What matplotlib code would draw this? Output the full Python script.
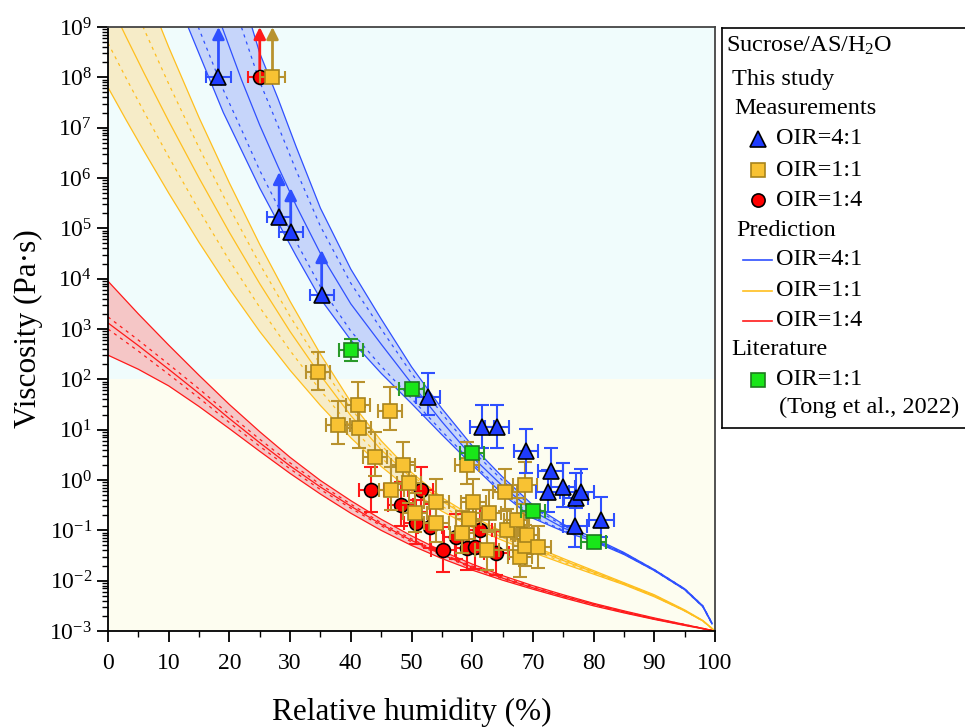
import numpy as np
import matplotlib.pyplot as plt
from matplotlib.ticker import FixedLocator, FuncFormatter, MultipleLocator, NullFormatter

plt.rcParams['font.family'] = ['Liberation Serif', 'DejaVu Serif']
plt.rcParams['mathtext.fontset'] = 'custom'
plt.rcParams['mathtext.rm'] = 'Liberation Serif'
plt.rcParams['mathtext.it'] = 'Liberation Serif:italic'
plt.rcParams['mathtext.bf'] = 'Liberation Serif:bold'

# ---- prediction bands, log10(viscosity / Pa s) vs RH (%) ----
rh_blue = [12, 15, 19, 22, 25, 28, 31, 35, 40, 45, 50, 55, 60, 65, 70, 75, 80, 85, 90, 95, 98, 99.5]
blue_lo = [9.35, 8.47, 7.3, 6.55, 5.8, 5.12, 4.45, 3.6, 2.78, 2.12, 1.52, 0.9, 0.3, -0.28, -0.76, -1.02, -1.22, -1.48, -1.8, -2.18, -2.52, -2.86]
blue_d1 = [9.86, 8.96, 7.75, 6.96, 6.15, 5.44, 4.73, 3.84, 2.96, 2.26, 1.62, 0.97, 0.35, -0.24, -0.73, -1.0, -1.21, -1.47, -1.8, -2.18, -2.52, -2.86]
blue_mid = [11.1, 10.2, 8.93, 7.95, 7.05, 6.23, 5.45, 4.5, 3.5, 2.7, 1.92, 1.16, 0.46, -0.12, -0.62, -0.95, -1.19, -1.46, -1.79, -2.17, -2.51, -2.85]
blue_d2 = [12.42, 11.4, 10.03, 8.99, 7.91, 7.04, 6.15, 5.04, 3.91, 3.0, 2.12, 1.32, 0.59, -0.01, -0.55, -0.91, -1.17, -1.45, -1.78, -2.16, -2.5, -2.84]
blue_hi = [13.3, 12.2, 10.77, 9.68, 8.48, 7.58, 6.62, 5.4, 4.19, 3.2, 2.25, 1.42, 0.68, 0.06, -0.5, -0.88, -1.15, -1.44, -1.78, -2.16, -2.5, -2.84]

rh_orange = [0, 3, 6, 10, 15, 20, 25, 30, 35, 40, 45, 50, 55, 60, 65, 70, 75, 80, 85, 90, 95, 98, 100]
orange_lo = [7.8, 7.15, 6.52, 5.7, 4.72, 3.8, 2.95, 2.18, 1.48, 0.84, 0.27, -0.22, -0.62, -0.94, -1.2, -1.44, -1.66, -1.87, -2.08, -2.32, -2.6, -2.8, -3.0]
orange_d1 = [8.68, 7.98, 7.3, 6.42, 5.36, 4.36, 3.43, 2.57, 1.78, 1.06, 0.44, -0.09, -0.52, -0.86, -1.14, -1.4, -1.63, -1.85, -2.07, -2.31, -2.6, -2.8, -3.0]
orange_mid = [9.55, 8.8, 8.07, 7.13, 6.0, 4.92, 3.9, 2.95, 2.08, 1.28, 0.6, 0.04, -0.42, -0.78, -1.08, -1.36, -1.6, -1.83, -2.06, -2.3, -2.6, -2.8, -3.0]
orange_d2 = [10.63, 9.75, 8.94, 7.87, 6.6, 5.41, 4.29, 3.25, 2.29, 1.42, 0.69, 0.1, -0.39, -0.75, -1.06, -1.34, -1.58, -1.82, -2.05, -2.29, -2.59, -2.8, -3.0]
orange_hi = [11.7, 10.7, 9.8, 8.6, 7.2, 5.9, 4.68, 3.55, 2.5, 1.55, 0.78, 0.15, -0.35, -0.72, -1.03, -1.31, -1.56, -1.8, -2.04, -2.28, -2.58, -2.79, -3.0]

rh_red = [0, 5, 10, 15, 20, 25, 30, 35, 40, 45, 50, 55, 60, 65, 70, 75, 80, 85, 90, 95, 100]
red_lo = [2.48, 2.2, 1.87, 1.46, 1.02, 0.57, 0.13, -0.28, -0.66, -1.0, -1.3, -1.56, -1.79, -1.99, -2.17, -2.34, -2.5, -2.64, -2.77, -2.89, -3.0]
red_d1 = [3.0, 2.56, 2.1, 1.63, 1.14, 0.67, 0.22, -0.19, -0.56, -0.91, -1.23, -1.5, -1.75, -1.96, -2.15, -2.32, -2.48, -2.63, -2.76, -2.88, -3.0]
red_mid = [3.12, 2.67, 2.2, 1.72, 1.22, 0.74, 0.28, -0.14, -0.52, -0.88, -1.2, -1.48, -1.73, -1.95, -2.14, -2.31, -2.47, -2.62, -2.76, -2.88, -3.0]
red_d2 = [3.24, 2.78, 2.3, 1.81, 1.3, 0.81, 0.34, -0.09, -0.48, -0.85, -1.17, -1.46, -1.71, -1.93, -2.12, -2.3, -2.46, -2.61, -2.75, -2.87, -3.0]
red_hi = [3.95, 3.3, 2.68, 2.08, 1.5, 0.96, 0.45, -0.01, -0.41, -0.78, -1.11, -1.41, -1.67, -1.9, -2.1, -2.28, -2.45, -2.6, -2.74, -2.87, -3.0]

# ---- measurements (log10 viscosity, error bars in decades) ----
tri_rh = [18.2, 28.2, 30.1, 35.2, 52.7, 61.6, 64.1, 68.9, 72.9, 72.5, 74.9, 77.1, 78.0, 76.9, 81.3]
tri_logv = [8.0, 5.23, 4.93, 3.68, 1.65, 1.05, 1.06, 0.58, 0.18, -0.23, -0.14, -0.36, -0.24, -0.91, -0.79]
tri_up = [0, 0, 0, 0, 0.47, 0.44, 0.43, 0.43, 0.45, 0.42, 0.47, 0.5, 0.45, 0.45, 0.46]
tri_dn = [0, 0, 0, 0, 0.36, 0.41, 0.43, 0.45, 0.12, 0.40, 0.39, 0.2, 0.16, 0.42, 0.34]
tri_arrow_top = [9.0, 6.12, 5.8, 4.57]   # lower-limit points (first four)

sq_rh = [27.1, 34.6, 37.9, 41.2, 41.4, 44.0, 46.5, 46.7, 48.6, 49.6, 50.6, 54.1, 54.1, 58.3,
         59.1, 59.4, 60.2, 62.4, 62.7, 65.4, 65.7, 67.3, 67.9, 68.7, 68.7, 69.0, 70.9]
sq_logv = [8.0, 2.15, 1.09, 1.49, 1.04, 0.46, 1.37, -0.2, 0.30, -0.06, -0.65, -0.43, -0.86, -1.06,
           0.30, -0.78, -0.43, -1.39, -0.65, -0.24, -0.99, -0.80, -1.52, -0.10, -1.31, -1.09, -1.34]
sq_up = [0, 0.40, 0.47, 0.45, 0.42, 0.5, 0.47, 0.45, 0.45, 0.42, 0.4, 0.45, 0.42, 0.45,
         0.45, 0.42, 0.45, 0.4, 0.45, 0.45, 0.42, 0.45, 0.4, 0.45, 0.42, 0.4, 0.42]
sq_dn = [0, 0.36, 0.38, 0.40, 0.4, 0.38, 0.37, 0.4, 0.38, 0.4, 0.38, 0.4, 0.38, 0.4,
         0.38, 0.4, 0.38, 0.4, 0.38, 0.38, 0.4, 0.38, 0.4, 0.38, 0.4, 0.38, 0.4]
sq_arrow_top = [9.0]

cir_rh = [25.0, 43.4, 48.2, 51.5, 50.8, 53.0, 55.2, 57.4, 59.1, 60.5, 61.3, 64.0]
cir_logv = [8.0, -0.2, -0.49, -0.2, -0.85, -0.93, -1.39, -1.13, -1.36, -1.33, -1.0, -1.46]
cir_up = [0, 0.46, 0.45, 0.45, 0.45, 0.45, 0.45, 0.45, 0.45, 0.45, 0.45, 0.45]
cir_dn = [0, 0.43, 0.43, 0.43, 0.43, 0.43, 0.43, 0.43, 0.43, 0.43, 0.43, 0.43]
cir_arrow_top = [9.0]

tong_rh = [40, 50, 60, 70, 80]
tong_logv = [2.58, 1.80, 0.53, -0.61, -1.23]
tong_up = [0.23, 0.06, 0.08, 0.06, 0.05]
tong_dn = [0.21, 0.06, 0.08, 0.06, 0.05]

rh_err = 2.0

BLUE = '#2f50ff'
ORANGE = '#ffbf1f'
RED = '#ff1a1a'
C_SQ = '#f8c233'
C_SQ_EDGE = '#a8841c'
C_GREEN = '#19e619'
C_GREEN_EDGE = '#1f7a1f'

fig = plt.figure(figsize=(9.65, 7.27), dpi=100)
ax = fig.add_axes([108 / 965, 1 - 631 / 727, 607 / 965, 604 / 727])
ax.set_yscale('log')
ax.set_xlim(0, 100)
ax.set_ylim(1e-3, 1e9)

# background split at 100 Pa s
ax.axhspan(1e2, 1e9, color='#f0fcfc', zorder=0, lw=0)
ax.axhspan(1e-3, 1e2, color='#fdfdf0', zorder=0, lw=0)


def band(rh, lo, d1, mid, d2, hi, line_c, fill_c):
    rh = np.array(rh)
    ax.fill_between(rh, 10 ** np.array(lo), 10 ** np.array(hi), color=fill_c, lw=0, zorder=1)
    for arr in (lo, mid, hi):
        ax.plot(rh, 10 ** np.array(arr), color=line_c, lw=0.9, zorder=2)
    for arr in (d1, d2):
        ax.plot(rh, 10 ** np.array(arr), color=line_c, lw=0.9, ls=(0, (2.5, 3.5)), zorder=2)


band(rh_red, red_lo, red_d1, red_mid, red_d2, red_hi, RED, '#f5c6c6')
band(rh_orange, orange_lo, orange_d1, orange_mid, orange_d2, orange_hi, ORANGE, '#f6ecc8')
band(rh_blue, blue_lo, blue_d1, blue_mid, blue_d2, blue_hi, BLUE, '#c6d5fa')


def points(rh, logv, up, dn, arrow_top, ecolor, marker, ms, fc, ec, z):
    rh = np.array(rh)
    v = 10 ** np.array(logv)
    yerr = [v - v * 10 ** -np.array(dn), v * 10 ** np.array(up) - v]
    n = len(arrow_top)
    # lower limits: horizontal error bar plus arrow up
    ax.errorbar(rh[:n], v[:n], xerr=rh_err, fmt='none', ecolor=ecolor, elinewidth=1.5,
                capsize=4, capthick=1.5, zorder=z)
    for x, y0, top in zip(rh[:n], v[:n], arrow_top):
        ax.annotate('', xy=(x, 10 ** top), xytext=(x, y0),
                    arrowprops=dict(arrowstyle='-|>,head_width=0.35,head_length=0.7',
                                    color=ecolor, lw=2, shrinkA=0, shrinkB=0), zorder=z)
    ax.errorbar(rh[n:], v[n:], xerr=rh_err, yerr=[yerr[0][n:], yerr[1][n:]], fmt='none',
                ecolor=ecolor, elinewidth=1.5, capsize=5, capthick=1.5, zorder=z)
    ax.plot(rh, v, ls='none', marker=marker, ms=ms, mfc=fc, mec=ec, mew=1.2, zorder=z + 0.5)


points(cir_rh, cir_logv, cir_up, cir_dn, cir_arrow_top, RED, 'o', 10, '#ff0000', 'black', 5)
points(sq_rh, sq_logv, sq_up, sq_dn, sq_arrow_top, '#b8922e', 's', 10, C_SQ, C_SQ_EDGE, 6)
points(tri_rh, tri_logv, tri_up, tri_dn, tri_arrow_top, BLUE, '^', 11.5, '#1f3cff', 'black', 7)
points(tong_rh, tong_logv, tong_up, tong_dn, [], '#2a9a2a', 's', 9.5, C_GREEN, C_GREEN_EDGE, 8)

# axes styling
ax.xaxis.set_major_locator(MultipleLocator(10))
ax.xaxis.set_minor_locator(MultipleLocator(5))
ax.yaxis.set_major_locator(FixedLocator([10.0 ** k for k in range(-3, 10)]))
ax.yaxis.set_major_formatter(FuncFormatter(lambda v, p: r'$10^{%d}$' % round(np.log10(v))))
ax.yaxis.set_minor_locator(FixedLocator([m * 10.0 ** k for k in range(-3, 9) for m in range(2, 10)]))
ax.yaxis.set_minor_formatter(NullFormatter())
ax.tick_params(which='both', direction='out', top=False, right=False, labelsize=17)
ax.tick_params(which='major', length=8, width=1.3)
ax.tick_params(which='minor', length=4, width=1.0)
ax.tick_params(axis='x', which='major', pad=8)
for s in ax.spines.values():
    s.set_linewidth(1.3)
ax.spines['top'].set_color('#444444')
ax.spines['right'].set_color('#444444')

ax.set_xlabel('Relative humidity (%)', fontsize=22.5, va='center')
ax.xaxis.set_label_coords(0.5, -81 / 604)
ax.set_ylabel('Viscosity (Pa\u00b7s)', fontsize=22.5, va='center', ha='center')
ax.yaxis.set_label_coords(-80 / 607, 0.5)

# legend box drawn in pixel-like coordinates
lg = fig.add_axes([722 / 965, 1 - 428 / 727, 246 / 965, 400 / 727])
lg.set_xlim(722, 968)
lg.set_ylim(428, 28)
lg.set_xticks([])
lg.set_yticks([])
for s in lg.spines.values():
    s.set_linewidth(1.2)
lg.patch.set_facecolor('white')

fs = 17.5
lg.text(726, 46, 'Sucrose/AS/H$_2$O', fontsize=fs, va='center', ha='left')
lg.text(732, 80, 'This study', fontsize=fs, va='center')
lg.text(734, 108, 'Measurements', fontsize=fs, va='center')
lg.plot(758, 139, marker='^', ms=11.5, mfc='#1f3cff', mec='black', mew=1.2)
lg.plot(758, 170, marker='s', ms=9.5, mfc=C_SQ, mec=C_SQ_EDGE, mew=1.2)
lg.plot(758, 200, marker='o', ms=9.5, mfc='#ff0000', mec='black', mew=1.2)
labels_oir = ['OIR=4:1', 'OIR=1:1', 'OIR=1:4']
for yy, t in zip((139, 170, 200), labels_oir):
    lg.text(776, yy, t, fontsize=fs, va='center')
lg.text(736, 230, 'Prediction', fontsize=fs, va='center')
for yy, c, t in zip((260, 291, 321), (BLUE, ORANGE, RED), labels_oir):
    lg.plot([743, 772], [yy, yy], color=c, lw=1.2)
    lg.text(776, yy, t, fontsize=fs, va='center')
lg.text(731, 350, 'Literature', fontsize=fs, va='center')
lg.plot(758, 380, marker='s', ms=9.5, mfc=C_GREEN, mec=C_GREEN_EDGE, mew=1.2)
lg.text(776, 380, 'OIR=1:1', fontsize=fs, va='center')
lg.text(779, 407, '(Tong et al., 2022)', fontsize=fs, va='center')

fig.savefig('out.png', dpi=100)
